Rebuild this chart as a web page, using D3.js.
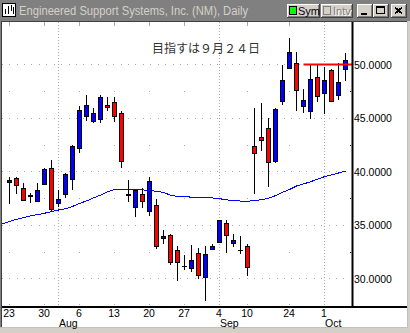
<!DOCTYPE html>
<html>
<head>
<meta charset="utf-8">
<script src="https://cdn.jsdelivr.net/npm/d3@7"></script>
<style>
  html, body { margin: 0; padding: 0; background: #d4d0c8; }
  svg { display: block; }
</style>
</head>
<body>
<div id="chart"></div>
<script>
// daily bars, Jul 23 - Oct 4 2001 (market closed Sep 11-14)
const dates = ["2001-07-23","2001-07-24","2001-07-25","2001-07-26","2001-07-27","2001-07-30","2001-07-31",
  "2001-08-01","2001-08-02","2001-08-03","2001-08-06","2001-08-07","2001-08-08","2001-08-09","2001-08-10",
  "2001-08-13","2001-08-14","2001-08-15","2001-08-16","2001-08-17","2001-08-20","2001-08-21","2001-08-22",
  "2001-08-23","2001-08-24","2001-08-27","2001-08-28","2001-08-29","2001-08-30","2001-08-31","2001-09-04",
  "2001-09-05","2001-09-06","2001-09-07","2001-09-10","2001-09-17","2001-09-18","2001-09-19","2001-09-20",
  "2001-09-21","2001-09-24","2001-09-25","2001-09-26","2001-09-27","2001-09-28","2001-10-01","2001-10-02",
  "2001-10-03","2001-10-04"];
const opens = [38.96,39.43,38.50,37.62,37.15,38.78,40.37,36.93,37.84,39.25,
  42.06,45.11,44.64,44.80,46.21,46.49,45.43,37.71,36.62,37.87,
  36.21,36.84,33.68,34.03,32.69,31.20,30.91,32.37,30.07,32.62,
  33.31,35.18,33.25,32.69,33.00,42.37,43.18,44.02,40.89,46.49,
  49.55,50.11,46.05,45.58,48.86,47.24,49.48,47.05,49.48];
const highs = [39.49,39.49,38.93,37.99,38.96,40.37,41.05,38.24,39.90,42.46,
  46.11,47.14,45.90,47.14,46.93,46.93,45.67,39.25,38.31,38.50,
  39.49,37.47,34.56,34.19,33.00,32.15,33.09,32.88,33.00,33.19,
  35.43,35.43,34.12,33.93,33.19,45.90,46.42,44.96,45.90,49.95,
  52.45,51.20,47.68,49.95,49.95,49.79,49.58,50.11,51.05];
const lows = [37.00,37.87,37.20,37.05,37.15,38.78,36.21,36.68,37.52,38.31,
  41.74,44.74,44.55,44.49,45.67,44.64,40.33,37.15,35.74,36.62,
  35.81,32.78,33.25,31.22,29.75,30.75,30.59,29.97,27.94,32.62,
  33.31,32.34,32.93,32.25,30.19,37.93,41.93,38.55,40.80,46.21,
  49.55,45.67,45.48,44.89,46.52,45.36,46.52,46.67,48.48];
const closes = [39.25,38.62,37.24,37.84,38.24,40.28,36.37,37.47,39.81,42.37,
  45.74,46.18,45.43,46.93,45.90,45.11,40.89,37.93,38.31,37.15,
  39.09,32.93,33.93,31.43,31.43,31.20,31.75,30.28,32.31,33.00,
  35.43,33.93,33.63,32.69,31.00,41.68,42.86,40.84,45.80,48.55,
  51.14,47.55,46.67,48.61,46.98,48.55,46.52,48.36,50.42];
const movingAvg = [35.32,35.53,35.70,35.85,35.97,36.10,36.25,36.40,36.52,36.73,
  37.01,37.25,37.53,37.79,38.12,38.31,38.32,38.33,38.34,38.29,
  38.22,38.15,38.04,37.79,37.67,37.63,37.61,37.58,37.55,37.53,
  37.46,37.35,37.29,37.24,37.23,37.27,37.37,37.49,37.75,38.06,
  38.32,38.65,38.84,39.04,39.28,39.52,39.69,39.86,40.04];
const movingAvgPrior = 35.12;           // Jul 20, just off the left edge

const yTicks = [30, 35, 40, 45, 50];
const yMinor = [32.5, 37.5, 42.5, 47.5];
const weekDates = ["2001-07-23","2001-07-30","2001-08-06","2001-08-13","2001-08-20","2001-08-27",
  "2001-09-04","2001-09-10","2001-09-24","2001-10-01"];
const weekLabels = ["23","30","6","13","20","27","4","10","24","1"];
const monthDates = ["2001-08-01","2001-09-04","2001-10-01"];
const monthLabels = ["Aug","Sep","Oct"];

const targetPrice = 50.0, targetFrom = "2001-09-26";
const note = "目指すは９月２４日";
const title = "Engineered Support Systems, Inc. (NM), Daily";

const W = 410, H = 333;
const plotL = 2, plotR = 352, plotT = 22, plotB = 307;
const snap = v => Math.round(v - 0.5) + 0.5;

const svg = d3.select("#chart").append("svg")
    .attr("width", W)
    .attr("height", H)
    .style("font-family", "'Liberation Sans', Arial, sans-serif");

// window frame + title bar
svg.append("rect").attr("width", W).attr("height", H).attr("fill", "#d4d0c8");
svg.append("rect").attr("width", W).attr("height", 20).attr("fill", "#808080");
svg.append("rect").attr("x", 2).attr("y", 22).attr("width", 405).attr("height", 305).attr("fill", "#fff");
svg.append("rect").attr("x", 0).attr("y", 20).attr("width", 1).attr("height", 307).attr("fill", "#808080");
svg.append("rect").attr("x", 1).attr("y", 21).attr("width", 1).attr("height", 306).attr("fill", "#404040");
svg.append("rect").attr("x", 0).attr("y", 20).attr("width", 410).attr("height", 1).attr("fill", "#808080");
svg.append("rect").attr("x", 1).attr("y", 21).attr("width", 406).attr("height", 1).attr("fill", "#404040");
svg.append("rect").attr("x", 407).attr("y", 21).attr("width", 1).attr("height", 307).attr("fill", "#c0c0c0");
svg.append("rect").attr("x", 0).attr("y", 327).attr("width", 408).attr("height", 1).attr("fill", "#c0c0c0");

// icon
const icon = svg.append("g");
icon.append("rect").attr("x", 2).attr("y", 3).attr("width", 14).attr("height", 14).attr("fill", "#000");
icon.append("rect").attr("x", 3).attr("y", 4).attr("width", 12).attr("height", 12).attr("fill", "#fff");
[[5, 9, 5], [8, 6, 8], [11, 5, 6], [13, 7, 7]].forEach(([bx, by, bh]) => {
    icon.append("rect").attr("x", bx).attr("y", by).attr("width", 1).attr("height", bh).attr("fill", "#000");
});

svg.append("text")
    .attr("x", 19).attr("y", 15)
    .attr("fill", "#d4d0c8")
    .attr("font-size", 12)
    .attr("textLength", 229)
    .attr("lengthAdjust", "spacingAndGlyphs")
    .text(title);

function button(x, y, w, h) {                       // classic raised button
    const g = svg.append("g").attr("shape-rendering", "crispEdges");
    g.append("rect").attr("x", x).attr("y", y).attr("width", w).attr("height", h).attr("fill", "#404040");
    g.append("rect").attr("x", x).attr("y", y).attr("width", w - 1).attr("height", h - 1).attr("fill", "#fff");
    g.append("rect").attr("x", x + 1).attr("y", y + 1).attr("width", w - 2).attr("height", h - 2).attr("fill", "#808080");
    g.append("rect").attr("x", x + 1).attr("y", y + 1).attr("width", w - 3).attr("height", h - 3).attr("fill", "#d4d0c8");
    return g;
}

const sym = button(287, 4, 33, 14);
sym.append("rect").attr("x", 289.5).attr("y", 6.5).attr("width", 7).attr("height", 8).attr("fill", "#00ff00").attr("stroke", "#000");
sym.append("text").attr("x", 298).attr("y", 15).attr("font-size", 11).attr("fill", "#000").text("Sym");

const intv = button(321, 4, 32, 14);
intv.append("rect").attr("x", 323.5).attr("y", 6.5).attr("width", 7).attr("height", 8).attr("fill", "#d4d0c8").attr("stroke", "#808080");
intv.append("text").attr("x", 334).attr("y", 16).attr("font-size", 11).attr("fill", "#fff").text("Intv");
intv.append("text").attr("x", 333).attr("y", 15).attr("font-size", 11).attr("fill", "#808080").text("Intv");

const minB = button(357, 4, 16, 14);
minB.append("rect").attr("x", 361).attr("y", 13).attr("width", 6).attr("height", 2).attr("fill", "#000");
const maxB = button(373, 4, 16, 14);
maxB.append("rect").attr("x", 376.5).attr("y", 6.5).attr("width", 8).attr("height", 7).attr("fill", "none").attr("stroke", "#000");
maxB.append("rect").attr("x", 376).attr("y", 6).attr("width", 9).attr("height", 2).attr("fill", "#000");
const closeB = button(391, 4, 16, 14);
closeB.append("path")
    .attr("d", "M395,7.5L402,13.5M402,7.5L395,13.5")
    .attr("stroke", "#000").attr("stroke-width", 1.8).attr("fill", "none");

// scales
const xSc = d3.scalePoint().domain(dates).range([9.5, 345.5]);
const ySc = d3.scaleLinear().domain([30, 50]).range([278.5, 64.5]);

svg.append("clipPath").attr("id", "plotClip")
    .append("rect").attr("x", plotL).attr("y", plotT).attr("width", plotR - plotL).attr("height", plotB - plotT);

const plot = svg.append("g").attr("clip-path", "url(#plotClip)");

// grid
const grid = plot.append("g").attr("shape-rendering", "crispEdges");
grid.selectAll("line.h").data(yTicks).join("line")
    .attr("x1", 1.7).attr("x2", plotR - 2)
    .attr("y1", d => snap(ySc(d))).attr("y2", d => snap(ySc(d)))
    .attr("stroke", "#a8a8a8").attr("stroke-dasharray", "1 6.43");
grid.selectAll("line.m").data(monthDates).join("line")
    .attr("x1", d => xSc(d)).attr("x2", d => xSc(d))
    .attr("y1", plotT).attr("y2", plotB)
    .attr("stroke", "#a8a8a8").attr("stroke-dasharray", "1 2");
const minorDots = [];
weekDates.filter(d => !monthDates.includes(d)).forEach(d => {
    yMinor.forEach(v => minorDots.push([d, v]));
});
grid.selectAll("rect.dot").data(minorDots).join("rect")
    .attr("x", d => xSc(d[0]) - 0.5).attr("y", d => Math.round(ySc(d[1])))
    .attr("width", 1).attr("height", 1).attr("fill", "#a8a8a8");
grid.selectAll("line.tt").data(weekDates.filter(d => !monthDates.includes(d))).join("line")
    .attr("x1", d => xSc(d)).attr("x2", d => xSc(d))
    .attr("y1", plotT).attr("y2", plotT + 4)
    .attr("stroke", "#a8a8a8");
grid.selectAll("line.tb").data(weekDates.filter(d => !monthDates.includes(d))).join("line")
    .attr("x1", d => xSc(d)).attr("x2", d => xSc(d))
    .attr("y1", plotB - 3).attr("y2", plotB)
    .attr("stroke", "#a8a8a8").attr("stroke-dasharray", "1 1");

// moving average (starts one bar before the first candle)
const maPoints = [[xSc(dates[0]) - xSc.step(), movingAvgPrior]]
    .concat(movingAvg.map((v, i) => [xSc(dates[i]), v]));
plot.append("path")
    .datum(maPoints)
    .attr("fill", "none")
    .attr("stroke", "#0000ff")
    .attr("stroke-width", 1)
    .attr("shape-rendering", "crispEdges")
    .attr("d", d3.line().x(d => d[0]).y(d => ySc(d[1])));

// candles
const candles = dates.map((d, i) => ({ date: d, open: opens[i], high: highs[i], low: lows[i], close: closes[i] }));
const cg = plot.append("g").attr("shape-rendering", "crispEdges")
    .selectAll("g").data(candles).join("g");

cg.append("line")
    .attr("x1", d => xSc(d.date)).attr("x2", d => xSc(d.date))
    .attr("y1", d => Math.round(ySc(d.high))).attr("y2", d => Math.round(ySc(d.low)))
    .attr("stroke", "#000");

cg.each(function (d) {
    const g = d3.select(this), cx = xSc(d.date);
    const top = Math.round(ySc(Math.max(d.open, d.close)));
    const bot = Math.round(ySc(Math.min(d.open, d.close)));
    if (bot - top < 2) {
        g.append("line")
            .attr("x1", cx - 2.5).attr("x2", cx + 2.5)
            .attr("y1", top + 0.5).attr("y2", top + 0.5)
            .attr("stroke", "#000");
    } else {
        g.append("rect")
            .attr("x", cx - 2).attr("y", top + 0.5)
            .attr("width", 4).attr("height", bot - top - 1)
            .attr("fill", d.close >= d.open ? "#0000ff" : "#ff0000")
            .attr("stroke", "#000");
    }
});

// target line + note
plot.append("line")
    .attr("x1", xSc(targetFrom)).attr("x2", plotR)
    .attr("y1", ySc(targetPrice)).attr("y2", ySc(targetPrice))
    .attr("stroke", "#ff0000").attr("stroke-width", 2);

svg.append("text")
    .attr("x", 152).attr("y", 53)
    .attr("font-family", "'Noto Sans CJK JP', sans-serif")
    .attr("font-size", 12)
    .attr("fill", "#333")
    .text(note);

// axes
svg.append("line").attr("x1", plotL).attr("x2", 407).attr("y1", plotB).attr("y2", plotB)
    .attr("stroke", "#000").attr("stroke-width", 2);
svg.append("line").attr("x1", plotR + 0.5).attr("x2", plotR + 0.5).attr("y1", plotT).attr("y2", plotB)
    .attr("stroke", "#000").attr("stroke-width", 2);

const yAxis = svg.append("g")
    .attr("transform", `translate(${plotR},0)`)
    .call(d3.axisRight(ySc).tickValues(yTicks).tickFormat(d3.format(".4f")).tickSize(-3).tickPadding(2));
yAxis.select(".domain").remove();
yAxis.selectAll(".tick line").attr("stroke", "#000").attr("x2", 1);
yAxis.selectAll("text").attr("font-size", 10.5).attr("fill", "#000")
    .attr("font-family", "'Liberation Sans', Arial, sans-serif").attr("dy", "0.36em");

svg.append("g").selectAll("rect").data(yMinor).join("rect")
    .attr("x", plotR - 2).attr("y", d => Math.round(ySc(d)))
    .attr("width", 1).attr("height", 1).attr("fill", "#000");

const xAxis = svg.append("g")
    .attr("transform", `translate(-1,${plotB})`)
    .call(d3.axisBottom(xSc).tickValues(weekDates).tickFormat((d, i) => weekLabels[i]).tickSize(0).tickPadding(3));
xAxis.select(".domain").remove();
xAxis.selectAll("text").attr("font-size", 10.5).attr("fill", "#000")
    .attr("font-family", "'Liberation Sans', Arial, sans-serif");

svg.append("g").selectAll("text").data(monthDates).join("text")
    .attr("x", d => xSc(d) + 0.5)
    .attr("y", 326.5)
    .attr("font-size", 10.5)
    .attr("fill", "#000")
    .text((d, i) => monthLabels[i]);
</script>
</body>
</html>
